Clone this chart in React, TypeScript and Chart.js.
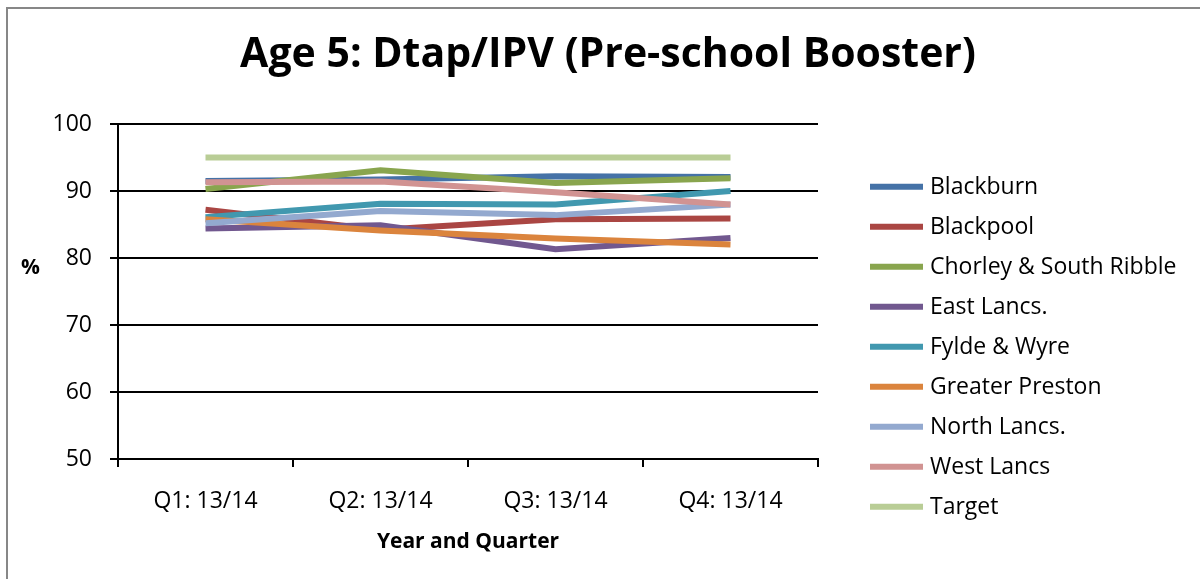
import React, { useEffect, useRef } from "react";
import { Chart, registerables } from "chart.js";

Chart.register(...registerables);

const TITLE = "Age 5: Dtap/IPV (Pre-school Booster)";
const X_TITLE = "Year and Quarter";
const Y_TITLE = "%";

const categories = ["Q1: 13/14", "Q2: 13/14", "Q3: 13/14", "Q4: 13/14"];

const seriesNames = [
  "Blackburn",
  "Blackpool",
  "Chorley & South Ribble",
  "East Lancs.",
  "Fylde & Wyre",
  "Greater Preston",
  "North Lancs.",
  "West Lancs",
  "Target",
];

const blackburn = [91.5, 91.7, 92.2, 92.1];
const blackpool = [87.2, 84.2, 85.8, 85.9];
const chorley = [90.3, 93.1, 91.2, 91.9];
const eastLancs = [84.4, 84.9, 81.3, 83.0];
const fyldeWyre = [86.1, 88.1, 88.0, 90.0];
const greaterPreston = [85.8, 84.1, 82.9, 82.0];
const northLancs = [85.2, 87.0, 86.4, 88.0];
const westLancs = [91.3, 91.4, 89.8, 88.0];
const target = [95, 95, 95, 95];

const seriesValues = [
  blackburn,
  blackpool,
  chorley,
  eastLancs,
  fyldeWyre,
  greaterPreston,
  northLancs,
  westLancs,
  target,
];

const seriesColors = [
  "#4572A7",
  "#AA4643",
  "#89A54E",
  "#71588F",
  "#4198AF",
  "#DB843D",
  "#93A9CF",
  "#D19392",
  "#B9CD96",
];

const yMin = 50;
const yMax = 100;
const yStep = 10;

const FONT = "'Open Sans', sans-serif";

const overlayPlugin = {
  id: "overlay",
  afterDraw(chart: any) {
    const ctx = chart.ctx;
    ctx.save();
    // Title
    ctx.fillStyle = "#000";
    ctx.font = `bold 41px ${FONT}`;
    ctx.textAlign = "center";
    ctx.textBaseline = "alphabetic";
    ctx.fillText(TITLE, 600, 58);

    // Y axis title (not rotated)
    ctx.font = `bold 21px ${FONT}`;
    ctx.fillText(Y_TITLE, 22.5, 265);

    // Legend
    const lx0 = 862;
    const lx1 = 915;
    const ly0 = 177.7;
    const gap = 40;
    ctx.textAlign = "left";
    ctx.font = `23px ${FONT}`;
    chart.data.datasets.forEach((ds: any, i: number) => {
      const y = ly0 + i * gap;
      ctx.strokeStyle = ds.borderColor;
      ctx.lineWidth = 6;
      ctx.lineCap = "butt";
      ctx.beginPath();
      ctx.moveTo(lx0, y);
      ctx.lineTo(lx1, y);
      ctx.stroke();
      ctx.fillStyle = "#000";
      ctx.fillText(ds.label, 922, y + 7.5);
    });
    ctx.restore();
  },
};

export default function App() {
  const canvasRef = useRef<HTMLCanvasElement | null>(null);

  useEffect(() => {
    if (!canvasRef.current) return;
    const n = seriesNames.length;
    const chart = new Chart(canvasRef.current, {
      type: "line",
      data: {
        labels: categories,
        datasets: seriesNames.map((name, i) => ({
          label: name,
          data: seriesValues[i],
          borderColor: seriesColors[i],
          backgroundColor: seriesColors[i],
          borderWidth: 6,
          pointRadius: 0,
          pointHoverRadius: 0,
          tension: 0,
          fill: false,
          order: n - i,
        })),
      },
      options: {
        responsive: false,
        maintainAspectRatio: false,
        animation: false,
        layout: {
          padding: { left: 0, right: 382, top: 115, bottom: 0 },
        },
        plugins: {
          legend: { display: false },
          title: { display: false },
          tooltip: { enabled: false },
        },
        scales: {
          x: {
            offset: true,
            grid: {
              offset: true,
              drawOnChartArea: false,
              drawTicks: true,
              tickLength: 8,
              color: "#000",
              lineWidth: 2,
            },
            border: { color: "#000", width: 2 },
            ticks: {
              color: "#000",
              font: { family: FONT, size: 23 },
              padding: 21,
              maxRotation: 0,
            },
            title: {
              display: true,
              text: X_TITLE,
              color: "#000",
              font: { family: FONT, size: 21, weight: "bold" },
              padding: { top: 0, bottom: 24 },
            },
            afterFit(scale: any) {
              scale.height = 120;
            },
          },
          y: {
            min: yMin,
            max: yMax,
            grid: {
              color: "#000",
              lineWidth: 2,
              tickLength: 8,
              drawTicks: true,
            },
            border: { color: "#000", width: 2 },
            ticks: {
              stepSize: yStep,
              color: "#000",
              font: { family: FONT, size: 23 },
              padding: 18,
            },
            afterFit(scale: any) {
              scale.width = 110;
            },
          },
        },
      },
      plugins: [overlayPlugin],
    });
    return () => chart.destroy();
  }, []);

  return (
    <div
      style={{
        position: "absolute",
        left: 6,
        top: 7,
        width: 1194,
        height: 572,
        boxSizing: "border-box",
        borderTop: "2px solid #878787",
        borderLeft: "2px solid #878787",
        background: "#fff",
      }}
    >
      <canvas ref={canvasRef} width={1192} height={570} style={{ display: "block" }} />
    </div>
  );
}
